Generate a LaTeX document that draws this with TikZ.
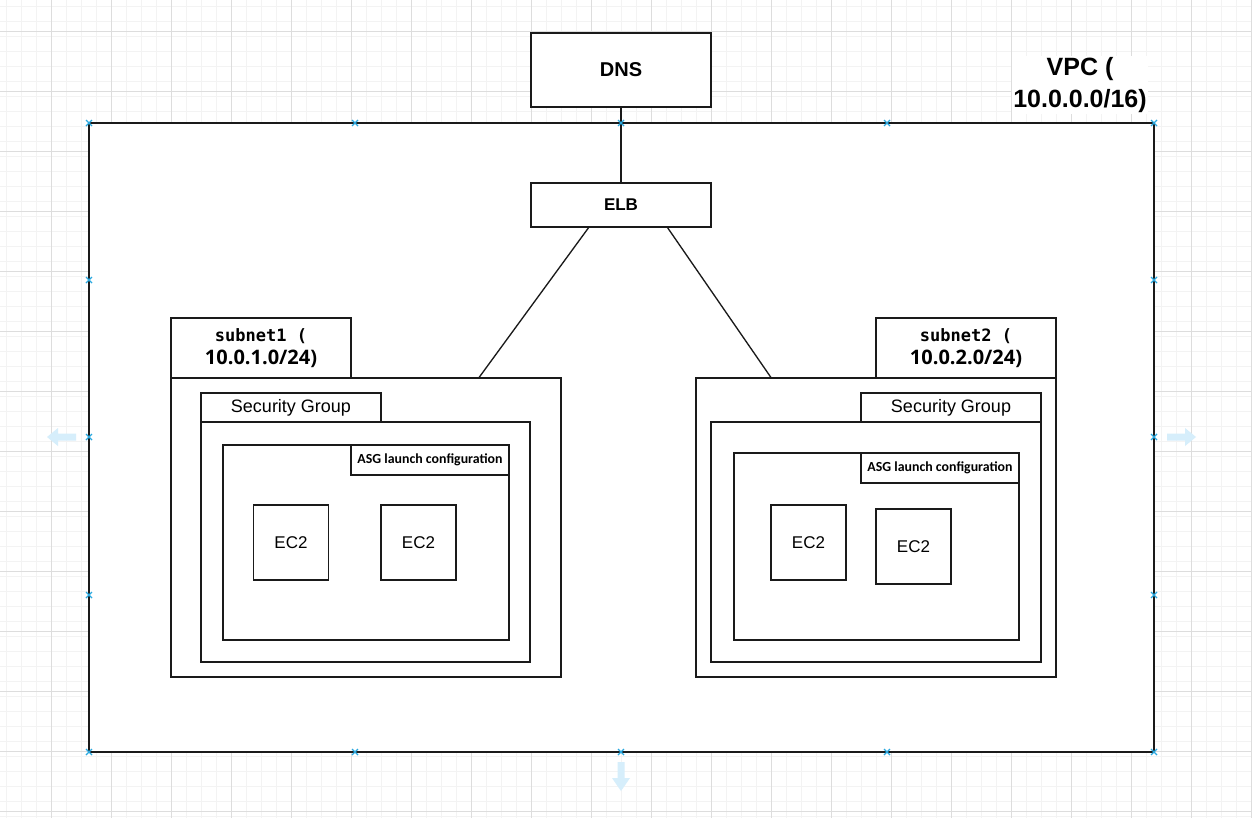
\documentclass[tikz,border=0pt]{standalone}
\usepackage{fontspec}
\setmainfont{Liberation Sans}
\newfontfamily\monofont{DejaVu Sans Mono}
\newfontfamily\opensans{Open Sans}
\newfontfamily\carlito{Carlito}

\definecolor{gridminor}{HTML}{F3F3F3}
\definecolor{gridmajor}{HTML}{DDDDDD}
\definecolor{handle}{HTML}{29A8E0}
\definecolor{hint}{HTML}{D6EEFB}
\definecolor{edge}{HTML}{1A1A1A}

\tikzset{
  box/.style={draw=edge, line width=1.1pt, fill=white, inner sep=0pt},
  wire/.style={draw=edge, line width=1pt},
  ectwo/.style={box, minimum width=56.25pt, minimum height=56.25pt, font=\fontsize{12.75}{15}\selectfont},
  sglabel/.style={box, minimum width=135pt, minimum height=21.75pt, font=\fontsize{13.5}{16}\selectfont},
  asglabel/.style={box, minimum width=118.5pt, minimum height=22.5pt, font=\carlito\bfseries\fontsize{10.4}{12}\selectfont},
  sublabel/.style={box, minimum width=135pt, minimum height=45pt, align=center, font=\bfseries\fontsize{12.75}{17.25}\selectfont},
}

\begin{document}
\begin{tikzpicture}[x=0.75pt, y=-0.75pt]
\useasboundingbox (0,0) rectangle (1252,818);
\fill[white] (0,0) rectangle (1252,818);
% grid
\foreach \i in {0,...,83} \draw[gridminor, line width=0.75pt] (6.7+15*\i,0) -- (6.7+15*\i,818);
\foreach \i in {0,...,54} \draw[gridminor, line width=0.75pt] (0,6.7+15*\i) -- (1252,6.7+15*\i);
\foreach \i in {0,...,20} \draw[gridmajor, line width=0.75pt] (51.7+60*\i,0) -- (51.7+60*\i,818);
\foreach \i in {0,...,13} \draw[gridmajor, line width=0.75pt] (0,31.7+60*\i) -- (1252,31.7+60*\i);

% VPC
\node[box, minimum width=798.75pt, minimum height=471.75pt] (vpc) at (621.5,437.5) {};
\node[fill=white, inner sep=1pt, align=center, font=\bfseries\fontsize{18.75}{24}\selectfont] (vpclabel) at (1080,85) {VPC (\\10.0.0.0/16)};

\node[box, minimum width=135pt, minimum height=55.5pt, font=\bfseries\fontsize{15}{18}\selectfont] (dns) at (621,70) {DNS};
\node[box, minimum width=135pt, minimum height=33pt, font=\bfseries\fontsize{12.75}{15}\selectfont] (elb) at (621,205) {ELB};

% subnet 1
\node[box, minimum width=292.5pt, minimum height=224.25pt] (subnet1) at (366,527.5) {};
\node[sublabel] (subnet1label) at (261,348) {{\monofont subnet1 (}\\{\opensans\fontsize{15}{17.25}\selectfont 10.0.1.0/24)}};
\node[box, minimum width=246.75pt, minimum height=180pt] (sg1) at (365.5,542) {};
\node[sglabel] (sg1label) at (291,407.5) {Security Group};
\node[box, minimum width=214.5pt, minimum height=146.25pt] (asg1) at (366,542.5) {};
\node[asglabel] (asg1label) at (430,460) {ASG launch configuration};
\node[ectwo] (ec2a) at (291,542.5) {EC2};
\node[ectwo] (ec2b) at (418.5,542.5) {EC2};

% subnet 2
\node[box, minimum width=270pt, minimum height=224.25pt] (subnet2) at (876,527.5) {};
\node[sublabel] (subnet2label) at (966,348) {{\monofont subnet2 (}\\{\opensans\fontsize{15}{17.25}\selectfont 10.0.2.0/24)}};
\node[box, minimum width=247.5pt, minimum height=180pt] (sg2) at (876,542) {};
\node[sglabel] (sg2label) at (951,407.5) {Security Group};
\node[box, minimum width=213.75pt, minimum height=140.25pt] (asg2) at (876.5,546.5) {};
\node[asglabel] (asg2label) at (940,468) {ASG launch configuration};
\node[ectwo] (ec2c) at (808.5,542.5) {EC2};
\node[ectwo] (ec2d) at (913.5,546.5) {EC2};

% links
\draw[wire] (dns) -- (elb);
\draw[wire] (elb.215) -- (subnet1.53);
\draw[wire] (elb.334) -- (subnet2.125);

% selection handles
\foreach \hx/\hy in {89/123,355/123,621/123,887/123,1154/123,
                     89/280,89/437,89/595,1154/280,1154/437,1154/595,
                     89/752,355/752,621/752,887/752,1154/752}
  \draw[handle, line width=1pt] (\hx-3,\hy-3) -- (\hx+3,\hy+3) (\hx-3,\hy+3) -- (\hx+3,\hy-3);
\fill[hint] (47,437) -- (58,428) -- (58,433.5) -- (76,433.5) -- (76,440.5) -- (58,440.5) -- (58,446) -- cycle;
\fill[hint] (1196,437) -- (1185,428) -- (1185,433.5) -- (1167,433.5) -- (1167,440.5) -- (1185,440.5) -- (1185,446) -- cycle;
\fill[hint] (621,791) -- (612,778) -- (617.5,778) -- (617.5,762) -- (624.5,762) -- (624.5,778) -- (630,778) -- cycle;
\end{tikzpicture}
\end{document}
